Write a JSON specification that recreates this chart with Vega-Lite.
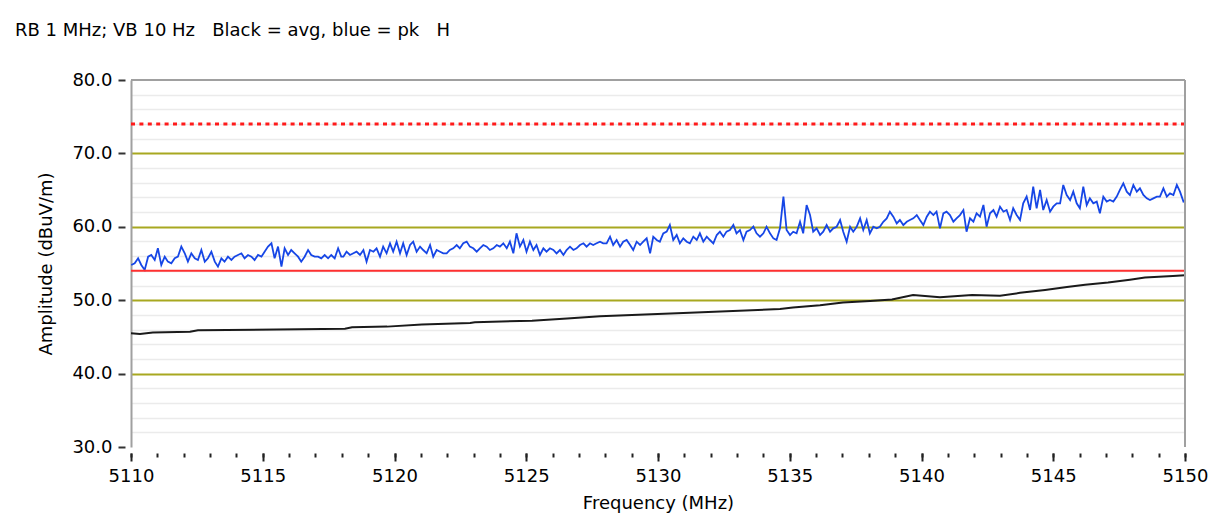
{
  "$schema": "https://vega.github.io/schema/vega-lite/v6.json",
  "width": 1054,
  "height": 367,
  "autosize": {"type": "none"},
  "padding": {"left": 131, "top": 80, "right": 30, "bottom": 78},
  "background": "white",
  "view": {"stroke": null},
  "title": {
    "text": "RB 1 MHz; VB 10 Hz\u00a0\u00a0\u00a0Black = avg, blue = pk\u00a0\u00a0\u00a0H",
    "anchor": "start",
    "frame": "group",
    "dx": -116,
    "offset": 17,
    "baseline": "alphabetic",
    "font": "DejaVu Sans",
    "fontSize": 18,
    "fontWeight": "normal",
    "color": "#000000"
  },
  "config": {
    "axis": {
      "labelFont": "DejaVu Sans",
      "labelFontSize": 18,
      "labelColor": "#000000",
      "titleFont": "DejaVu Sans",
      "titleFontSize": 18,
      "titleFontWeight": "normal",
      "titleColor": "#000000",
      "labelFlush": false,
      "labelOverlap": false,
      "labelBound": false
    }
  },
  "datasets": {
    "pk": [
      {"f":5110.01,"v":54.80},{"f":5110.14,"v":55.02},{"f":5110.27,"v":55.71},{"f":5110.39,"v":54.80},{"f":5110.52,"v":54.12},{"f":5110.65,"v":55.93},{"f":5110.77,"v":56.16},{"f":5110.90,"v":55.48},{"f":5111.02,"v":57.07},{"f":5111.15,"v":54.80},{"f":5111.28,"v":55.93},{"f":5111.40,"v":55.25},{"f":5111.53,"v":55.02},{"f":5111.66,"v":55.71},{"f":5111.78,"v":55.93},{"f":5111.91,"v":57.30},{"f":5112.04,"v":56.39},{"f":5112.16,"v":55.25},{"f":5112.29,"v":56.39},{"f":5112.42,"v":55.71},{"f":5112.54,"v":55.48},{"f":5112.67,"v":56.84},{"f":5112.80,"v":55.25},{"f":5112.92,"v":55.71},{"f":5113.05,"v":56.61},{"f":5113.18,"v":55.25},{"f":5113.30,"v":54.57},{"f":5113.43,"v":55.71},{"f":5113.55,"v":55.25},{"f":5113.68,"v":55.93},{"f":5113.81,"v":55.48},{"f":5113.93,"v":55.93},{"f":5114.06,"v":56.16},{"f":5114.19,"v":56.39},{"f":5114.31,"v":55.71},{"f":5114.44,"v":56.16},{"f":5114.57,"v":55.93},{"f":5114.69,"v":55.48},{"f":5114.82,"v":56.16},{"f":5114.95,"v":55.93},{"f":5115.07,"v":56.61},{"f":5115.20,"v":57.30},{"f":5115.33,"v":57.75},{"f":5115.45,"v":55.71},{"f":5115.58,"v":57.30},{"f":5115.71,"v":54.57},{"f":5115.83,"v":57.07},{"f":5115.96,"v":56.16},{"f":5116.08,"v":56.84},{"f":5116.21,"v":56.39},{"f":5116.34,"v":55.93},{"f":5116.46,"v":55.25},{"f":5116.59,"v":55.93},{"f":5116.72,"v":56.84},{"f":5116.84,"v":56.16},{"f":5116.97,"v":55.93},{"f":5117.10,"v":55.93},{"f":5117.22,"v":55.71},{"f":5117.35,"v":56.16},{"f":5117.48,"v":55.71},{"f":5117.60,"v":56.16},{"f":5117.73,"v":55.71},{"f":5117.86,"v":57.07},{"f":5117.98,"v":55.93},
      {"f":5118.06,"v":55.93},{"f":5118.18,"v":56.61},{"f":5118.31,"v":56.16},{"f":5118.44,"v":56.39},{"f":5118.56,"v":56.61},{"f":5118.69,"v":56.16},{"f":5118.82,"v":56.84},{"f":5118.94,"v":55.25},{"f":5119.07,"v":56.84},{"f":5119.20,"v":56.61},{"f":5119.32,"v":57.07},{"f":5119.45,"v":55.93},{"f":5119.57,"v":57.30},{"f":5119.70,"v":56.39},{"f":5119.83,"v":57.75},{"f":5119.95,"v":56.61},{"f":5120.08,"v":57.98},{"f":5120.21,"v":56.39},{"f":5120.33,"v":57.75},{"f":5120.46,"v":56.16},{"f":5120.59,"v":57.52},{"f":5120.71,"v":57.98},{"f":5120.84,"v":56.61},{"f":5120.97,"v":57.30},{"f":5121.09,"v":56.84},{"f":5121.22,"v":56.39},{"f":5121.35,"v":57.52},{"f":5121.47,"v":55.93},{"f":5121.60,"v":56.84},{"f":5121.73,"v":56.61},{"f":5121.85,"v":56.39},{"f":5121.98,"v":56.39},{"f":5122.10,"v":56.84},{"f":5122.23,"v":57.07},{"f":5122.36,"v":57.52},{"f":5122.48,"v":57.07},{"f":5122.61,"v":57.75},{"f":5122.74,"v":57.98},{"f":5122.86,"v":57.30},{"f":5122.99,"v":57.07},{"f":5123.12,"v":56.61},{"f":5123.24,"v":57.07},{"f":5123.37,"v":57.52},{"f":5123.50,"v":57.30},{"f":5123.62,"v":56.84},{"f":5123.75,"v":57.07},{"f":5123.88,"v":57.52},{"f":5124.00,"v":57.30},{"f":5124.13,"v":57.75},{"f":5124.26,"v":57.07},{"f":5124.38,"v":57.98},{"f":5124.51,"v":56.39},{"f":5124.63,"v":59.11},{"f":5124.76,"v":57.30},{"f":5124.89,"v":58.20},{"f":5125.01,"v":56.61},{"f":5125.14,"v":57.98},{"f":5125.27,"v":56.84},{"f":5125.39,"v":57.52},{"f":5125.52,"v":56.16},{"f":5125.65,"v":57.07},{"f":5125.77,"v":56.61},{"f":5125.90,"v":57.07},{"f":5126.03,"v":56.84},
      {"f":5126.15,"v":56.38},{"f":5126.28,"v":56.84},{"f":5126.41,"v":56.16},{"f":5126.53,"v":56.84},{"f":5126.66,"v":57.29},{"f":5126.79,"v":56.84},{"f":5126.91,"v":57.07},{"f":5127.04,"v":57.52},{"f":5127.17,"v":57.75},{"f":5127.29,"v":57.29},{"f":5127.42,"v":57.75},{"f":5127.54,"v":57.52},{"f":5127.67,"v":57.75},{"f":5127.80,"v":57.97},{"f":5127.92,"v":57.75},{"f":5128.05,"v":57.75},{"f":5128.18,"v":58.65},{"f":5128.30,"v":57.52},{"f":5128.43,"v":58.20},{"f":5128.56,"v":57.29},{"f":5128.68,"v":57.97},{"f":5128.81,"v":58.20},{"f":5128.94,"v":57.52},{"f":5129.06,"v":56.84},{"f":5129.19,"v":57.97},{"f":5129.32,"v":57.52},{"f":5129.44,"v":57.97},{"f":5129.57,"v":58.43},{"f":5129.70,"v":56.38},{"f":5129.82,"v":58.65},{"f":5129.95,"v":58.20},{"f":5130.07,"v":57.97},{"f":5130.20,"v":59.11},{"f":5130.33,"v":59.34},{"f":5130.45,"v":60.24},{"f":5130.58,"v":58.20},{"f":5130.71,"v":58.88},{"f":5130.83,"v":57.75},{"f":5130.96,"v":58.43},{"f":5131.09,"v":57.97},{"f":5131.21,"v":57.75},{"f":5131.34,"v":58.65},{"f":5131.47,"v":58.20},{"f":5131.59,"v":59.11},{"f":5131.72,"v":57.97},{"f":5131.85,"v":58.65},{"f":5131.97,"v":58.20},{"f":5132.10,"v":57.75},{"f":5132.23,"v":58.88},{"f":5132.35,"v":59.34},{"f":5132.48,"v":58.65},{"f":5132.60,"v":59.34},{"f":5132.73,"v":59.56},{"f":5132.86,"v":60.24},{"f":5132.98,"v":59.11},{"f":5133.11,"v":59.56},{"f":5133.24,"v":58.20},{"f":5133.36,"v":59.34},{"f":5133.49,"v":59.56},{"f":5133.62,"v":60.02},{"f":5133.74,"v":59.11},{"f":5133.87,"v":58.65},{"f":5134.00,"v":59.11},
      {"f":5134.12,"v":60.01},{"f":5134.25,"v":59.11},{"f":5134.38,"v":58.42},{"f":5134.50,"v":58.20},{"f":5134.63,"v":59.79},{"f":5134.76,"v":64.10},{"f":5134.88,"v":59.56},{"f":5135.01,"v":58.88},{"f":5135.13,"v":59.33},{"f":5135.26,"v":59.11},{"f":5135.39,"v":60.69},{"f":5135.51,"v":59.11},{"f":5135.64,"v":62.97},{"f":5135.77,"v":61.60},{"f":5135.89,"v":59.33},{"f":5136.02,"v":59.79},{"f":5136.15,"v":58.88},{"f":5136.27,"v":59.33},{"f":5136.40,"v":60.24},{"f":5136.53,"v":59.33},{"f":5136.65,"v":59.79},{"f":5136.78,"v":60.01},{"f":5136.91,"v":60.92},{"f":5137.03,"v":59.33},{"f":5137.16,"v":57.97},{"f":5137.29,"v":60.01},{"f":5137.41,"v":59.33},{"f":5137.54,"v":60.01},{"f":5137.67,"v":61.15},{"f":5137.79,"v":59.56},{"f":5137.92,"v":60.92},{"f":5138.04,"v":59.11},{"f":5138.17,"v":60.01},{"f":5138.30,"v":59.79},{"f":5138.42,"v":60.01},{"f":5138.55,"v":60.69},{"f":5138.68,"v":61.15},{"f":5138.80,"v":62.06},{"f":5138.93,"v":61.38},{"f":5139.06,"v":60.47},{"f":5139.18,"v":60.92},{"f":5139.31,"v":60.24},{"f":5139.44,"v":60.69},{"f":5139.56,"v":60.92},{"f":5139.69,"v":61.15},{"f":5139.82,"v":61.60},{"f":5139.94,"v":60.92},{"f":5140.07,"v":60.24},{"f":5140.20,"v":61.38},{"f":5140.32,"v":62.06},{"f":5140.45,"v":61.60},{"f":5140.57,"v":62.06},{"f":5140.70,"v":59.79},{"f":5140.83,"v":61.83},{"f":5140.95,"v":62.06},{"f":5141.08,"v":61.60},{"f":5141.21,"v":60.69},{"f":5141.33,"v":61.15},{"f":5141.46,"v":61.60},{"f":5141.59,"v":62.28},{"f":5141.71,"v":59.33},{"f":5141.84,"v":61.15},{"f":5141.97,"v":60.69},
      {"f":5142.09,"v":61.84},{"f":5142.22,"v":61.38},{"f":5142.35,"v":62.97},{"f":5142.47,"v":60.02},{"f":5142.60,"v":61.84},{"f":5142.73,"v":62.29},{"f":5142.85,"v":61.38},{"f":5142.98,"v":62.74},{"f":5143.11,"v":62.06},{"f":5143.23,"v":62.29},{"f":5143.36,"v":60.93},{"f":5143.48,"v":62.52},{"f":5143.61,"v":61.61},{"f":5143.74,"v":60.93},{"f":5143.86,"v":63.20},{"f":5143.99,"v":64.11},{"f":5144.12,"v":62.29},{"f":5144.24,"v":65.47},{"f":5144.37,"v":62.52},{"f":5144.50,"v":65.02},{"f":5144.62,"v":62.29},{"f":5144.75,"v":63.65},{"f":5144.88,"v":62.06},{"f":5145.00,"v":62.74},{"f":5145.13,"v":63.20},{"f":5145.26,"v":63.20},{"f":5145.38,"v":65.70},{"f":5145.51,"v":64.33},{"f":5145.64,"v":63.65},{"f":5145.76,"v":64.79},{"f":5145.89,"v":63.20},{"f":5146.01,"v":62.52},{"f":5146.14,"v":65.47},{"f":5146.27,"v":62.97},{"f":5146.39,"v":63.88},{"f":5146.52,"v":63.20},{"f":5146.65,"v":63.43},{"f":5146.77,"v":61.84},{"f":5146.90,"v":64.11},{"f":5147.03,"v":63.43},{"f":5147.15,"v":63.65},{"f":5147.28,"v":63.43},{"f":5147.41,"v":64.11},{"f":5147.53,"v":65.02},{"f":5147.66,"v":65.92},{"f":5147.79,"v":64.79},{"f":5147.91,"v":64.33},{"f":5148.04,"v":65.70},{"f":5148.17,"v":64.79},{"f":5148.29,"v":65.24},{"f":5148.42,"v":64.33},{"f":5148.55,"v":63.88},{"f":5148.67,"v":63.65},{"f":5148.80,"v":63.88},{"f":5148.93,"v":64.11},{"f":5149.05,"v":64.11},{"f":5149.18,"v":65.24},{"f":5149.31,"v":64.11},{"f":5149.43,"v":64.56},{"f":5149.56,"v":64.33},{"f":5149.69,"v":65.70},{"f":5149.81,"v":64.79},{"f":5149.94,"v":63.43},{"f":5150.00,"v":63.60}
    ],
    "avg": [
      {"f":5110.0,"v":45.5},{"f":5110.34,"v":45.4},{"f":5110.83,"v":45.6},{"f":5112.24,"v":45.7},{"f":5112.54,"v":45.9},{"f":5118.12,"v":46.1},{"f":5118.39,"v":46.3},{"f":5119.72,"v":46.4},{"f":5121.04,"v":46.7},{"f":5122.87,"v":46.9},{"f":5123.05,"v":47.0},{"f":5125.22,"v":47.2},{"f":5126.55,"v":47.5},{"f":5127.80,"v":47.8},{"f":5131.2,"v":48.3},{"f":5134.63,"v":48.8},{"f":5135.12,"v":49.0},{"f":5136.15,"v":49.3},{"f":5137.02,"v":49.7},{"f":5138.05,"v":49.9},{"f":5138.88,"v":50.1},{"f":5139.68,"v":50.7},{"f":5140.70,"v":50.4},{"f":5141.92,"v":50.7},{"f":5142.98,"v":50.6},{"f":5143.74,"v":51.0},{"f":5144.69,"v":51.4},{"f":5145.52,"v":51.8},{"f":5146.21,"v":52.1},{"f":5147.08,"v":52.4},{"f":5147.91,"v":52.8},{"f":5148.48,"v":53.1},{"f":5149.54,"v":53.3},{"f":5150.0,"v":53.4}
    ],
    "one": [{"k": 1}]
  },
  "resolve": {"axis": {"x": "independent", "y": "independent"}},
  "layer": [
    {
      "data": {"name": "avg"},
      "mark": {"type": "line", "color": "#1a1a1a", "strokeWidth": 2},
      "encoding": {
        "x": {
          "field": "f", "type": "quantitative",
          "scale": {"domain": [5110, 5150], "nice": false, "zero": false},
          "axis": {
            "orient": "bottom",
            "values": [5110,5111,5112,5113,5114,5115,5116,5117,5118,5119,5120,5121,5122,5123,5124,5125,5126,5127,5128,5129,5130,5131,5132,5133,5134,5135,5136,5137,5138,5139,5140,5141,5142,5143,5144,5145,5146,5147,5148,5149,5150],
            "tickSize": 4, "tickWidth": 2, "tickColor": "#222222",
            "labels": false, "domain": false, "grid": false, "offset": 6, "title": null
          }
        },
        "y": {
          "field": "v", "type": "quantitative",
          "scale": {"domain": [30, 80], "nice": false, "zero": false},
          "axis": {
            "orient": "left",
            "values": [32,34,36,38,40,42,44,46,48,50,52,54,56,58,60,62,64,66,68,70,72,74,76,78],
            "grid": true,
            "gridColor": {"condition": {"test": "datum.value % 10 === 0", "value": "#a8a820"}, "value": "#ebebeb"},
            "gridWidth": {"condition": {"test": "datum.value % 10 === 0", "value": 2}, "value": 1.5},
            "ticks": false, "labels": false,
            "domain": true, "domainColor": "#a0a0a0", "domainWidth": 2,
            "title": null
          }
        }
      }
    },
    {
      "data": {"name": "pk"},
      "mark": {"type": "line", "color": "#1646e6", "strokeWidth": 1.8},
      "encoding": {
        "x": {
          "field": "f", "type": "quantitative",
          "scale": {"domain": [5110, 5150], "nice": false, "zero": false},
          "axis": {
            "orient": "bottom",
            "values": [5110,5115,5120,5125,5130,5135,5140,5145,5150],
            "format": "d",
            "tickSize": 8, "tickWidth": 2, "tickColor": "#222222",
            "domain": false, "grid": false, "offset": 6, "labelPadding": 6,
            "title": "Frequency (MHz)", "titlePadding": 9
          }
        },
        "y": {
          "field": "v", "type": "quantitative",
          "scale": {"domain": [30, 80], "nice": false, "zero": false},
          "axis": {
            "orient": "left",
            "values": [30,40,50,60,70,80],
            "format": ".1f",
            "tickSize": 7, "tickWidth": 2, "tickColor": "#333333",
            "domain": false, "grid": false, "offset": 6, "labelPadding": 6,
            "title": "Amplitude (dBuV/m)", "titlePadding": 16
          }
        }
      }
    },
    {
      "data": {"name": "one"},
      "mark": {"type": "rule", "color": "#ff1a1a", "strokeWidth": 3, "strokeDash": [4, 4.4]},
      "encoding": {"y": {"datum": 74, "type": "quantitative", "axis": null}}
    },
    {
      "data": {"name": "one"},
      "mark": {"type": "rule", "color": "#ff3030", "strokeWidth": 2},
      "encoding": {"y": {"datum": 54, "type": "quantitative", "axis": null}}
    },
    {
      "data": {"name": "one"},
      "mark": {"type": "rule", "color": "#a0a0a0", "strokeWidth": 2},
      "encoding": {"y": {"datum": 80, "type": "quantitative", "axis": null}}
    },
    {
      "data": {"name": "one"},
      "mark": {"type": "rule", "color": "#a0a0a0", "strokeWidth": 2},
      "encoding": {"x": {"datum": 5150, "type": "quantitative", "axis": null}}
    }
  ]
}
